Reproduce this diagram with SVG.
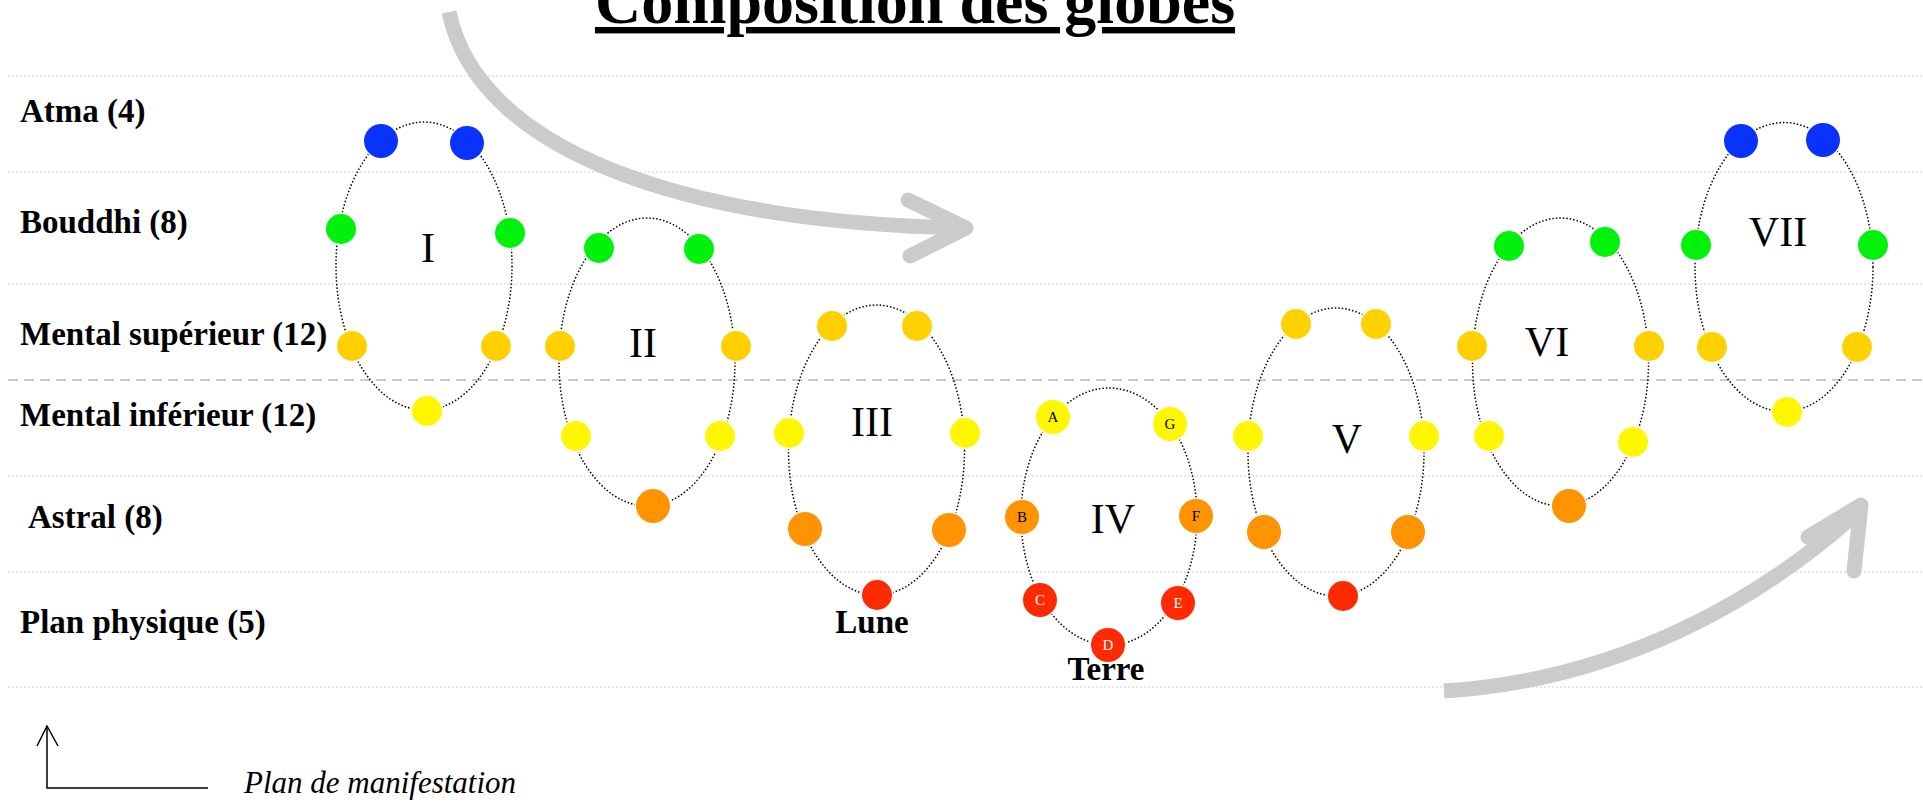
<svg xmlns="http://www.w3.org/2000/svg" width="1923" height="803" viewBox="0 0 1923 803">
<style>
.lbl{font-family:"Liberation Serif","Times New Roman",serif;font-weight:bold;font-size:33px;fill:#000}
.num{font-family:"Liberation Serif","Times New Roman",serif;font-size:42px;fill:#000;text-anchor:middle}
.let{font-family:"Liberation Serif","Times New Roman",serif;font-size:15px;text-anchor:middle}
.orb{fill:none;stroke:#000;stroke-width:1.5;stroke-dasharray:1.5 2}
.lvl{stroke:#cfcfcf;stroke-width:1;stroke-dasharray:2 2}
circle{stroke:#fff;stroke-width:3;paint-order:stroke}
.b{fill:#0a32ff}.g{fill:#00f20a}.o{fill:#ffd100}.y{fill:#fff700}.or{fill:#ff9300}.r{fill:#ff2a00}
.arrow{fill:none;stroke:#cbcbcb;stroke-width:15}
</style>
<rect width="1923" height="803" fill="#fff"/>
<g id="levels">
<line class="lvl" x1="8" y1="76" x2="1923" y2="76"/>
<line class="lvl" x1="8" y1="172" x2="1923" y2="172"/>
<line class="lvl" x1="8" y1="284" x2="1923" y2="284"/>
<line x1="8" y1="380" x2="1923" y2="380" stroke="#cccccc" stroke-width="2" stroke-dasharray="10 6"/>
<line class="lvl" x1="8" y1="476" x2="1923" y2="476"/>
<line class="lvl" x1="8" y1="572" x2="1923" y2="572"/>
<line class="lvl" x1="8" y1="687" x2="1923" y2="687"/>
</g>
<text x="915" y="23" text-anchor="middle" text-decoration="underline" font-family="Liberation Serif, Times New Roman, serif" font-weight="bold" font-size="64">Composition des globes</text>
<g id="labels">
<text class="lbl" x="20" y="122">Atma (4)</text>
<text class="lbl" x="20" y="233">Bouddhi (8)</text>
<text class="lbl" x="20" y="345">Mental supérieur (12)</text>
<text class="lbl" x="20" y="426">Mental inférieur (12)</text>
<text class="lbl" x="28" y="528">Astral (8)</text>
<text class="lbl" x="20" y="633">Plan physique (5)</text>
</g>
<g id="connectors">
<path class="arrow" d="M449 12 C478 150,680 222,962 228"/>
<path class="arrow" d="M908 200 L966 228 L910 256" stroke-linecap="round" stroke-linejoin="round"/>
<path class="arrow" d="M1444 691 C1620 680,1760 600,1858 512"/>
<path class="arrow" d="M1808 537 L1861 505 L1854 571" stroke-linecap="round" stroke-linejoin="round"/>
</g>
<g id="globe-I">
<ellipse class="orb" cx="424" cy="266" rx="88" ry="144"/>
<circle class="b" cx="381" cy="141" r="17"/><circle class="b" cx="467" cy="143" r="17"/>
<circle class="g" cx="341" cy="229" r="15"/><circle class="g" cx="510" cy="233" r="15"/>
<circle class="o" cx="352" cy="346" r="15"/><circle class="o" cx="496" cy="346" r="15"/>
<circle class="y" cx="427" cy="411" r="15"/>
<text class="num" x="428" y="262">I</text>
</g>
<g id="globe-II">
<ellipse class="orb" cx="647" cy="362" rx="88" ry="144"/>
<circle class="g" cx="599" cy="248" r="15"/><circle class="g" cx="699" cy="249" r="15"/>
<circle class="o" cx="560" cy="346" r="15"/><circle class="o" cx="736" cy="346" r="15"/>
<circle class="y" cx="576" cy="436" r="15"/><circle class="y" cx="720" cy="436" r="15"/>
<circle class="or" cx="653" cy="506" r="17"/>
<text class="num" x="643" y="357">II</text>
</g>
<g id="globe-III">
<ellipse class="orb" cx="876.5" cy="450" rx="88" ry="145"/>
<circle class="o" cx="832" cy="326" r="15"/><circle class="o" cx="917" cy="326" r="15"/>
<circle class="y" cx="789" cy="433" r="15"/><circle class="y" cx="965" cy="433" r="15"/>
<circle class="or" cx="805" cy="529" r="17"/><circle class="or" cx="949" cy="530" r="17"/>
<circle class="r" cx="877" cy="595" r="15"/>
<text class="num" x="872" y="436">III</text>
<text class="lbl" x="872" y="633" text-anchor="middle" font-size="32">Lune</text>
</g>
<g id="globe-IV">
<ellipse class="orb" cx="1109" cy="516.5" rx="88" ry="128.5"/>
<circle class="y" cx="1053" cy="417" r="17"/><text class="let" x="1053" y="422">A</text>
<circle class="y" cx="1170" cy="424" r="17"/><text class="let" x="1170" y="429">G</text>
<circle class="or" cx="1022" cy="517" r="17"/><text class="let" x="1022" y="522">B</text>
<circle class="or" cx="1196" cy="516" r="17"/><text class="let" x="1196" y="521">F</text>
<circle class="r" cx="1040" cy="600" r="17"/><text class="let" x="1040" y="605" fill="#fff">C</text>
<circle class="r" cx="1178" cy="603" r="17"/><text class="let" x="1178" y="608" fill="#fff">E</text>
<circle class="r" cx="1108" cy="645" r="17"/><text class="let" x="1108" y="650" fill="#fff">D</text>
<text class="num" x="1113" y="533">IV</text>
<text class="lbl" x="1106" y="680" text-anchor="middle" font-size="30">Terre</text>
</g>
<g id="globe-V">
<ellipse class="orb" cx="1336" cy="452" rx="88" ry="144"/>
<circle class="o" cx="1296" cy="324" r="15"/><circle class="o" cx="1376" cy="324" r="15"/>
<circle class="y" cx="1248" cy="436" r="15"/><circle class="y" cx="1424" cy="436" r="15"/>
<circle class="or" cx="1264" cy="532" r="17"/><circle class="or" cx="1408" cy="532" r="17"/>
<circle class="r" cx="1343" cy="596" r="15"/>
<text class="num" x="1347" y="453">V</text>
</g>
<g id="globe-VI">
<ellipse class="orb" cx="1560.5" cy="362" rx="88" ry="144"/>
<circle class="g" cx="1509" cy="246" r="15"/><circle class="g" cx="1605" cy="242" r="15"/>
<circle class="o" cx="1472" cy="346" r="15"/><circle class="o" cx="1649" cy="346" r="15"/>
<circle class="y" cx="1489" cy="436" r="15"/><circle class="y" cx="1633" cy="442" r="15"/>
<circle class="or" cx="1569" cy="506" r="17"/>
<text class="num" x="1547" y="356">VI</text>
</g>
<g id="globe-VII">
<ellipse class="orb" cx="1784" cy="267" rx="89" ry="144.5"/>
<circle class="b" cx="1741" cy="141" r="17"/><circle class="b" cx="1823" cy="140" r="17"/>
<circle class="g" cx="1696" cy="245" r="15"/><circle class="g" cx="1873" cy="245" r="15"/>
<circle class="o" cx="1712" cy="347" r="15"/><circle class="o" cx="1857" cy="347" r="15"/>
<circle class="y" cx="1787" cy="412" r="15"/>
<text class="num" x="1778" y="246">VII</text>
</g>
<g id="legend">
<path d="M47 726 V788 H208" fill="none" stroke="#000" stroke-width="1.5"/>
<path d="M37 746 L47 726 L58 746" fill="none" stroke="#000" stroke-width="1.5"/>
<text x="244" y="793" font-family="Liberation Serif, Times New Roman, serif" font-style="italic" font-size="31">Plan de manifestation</text>
</g>
</svg>
